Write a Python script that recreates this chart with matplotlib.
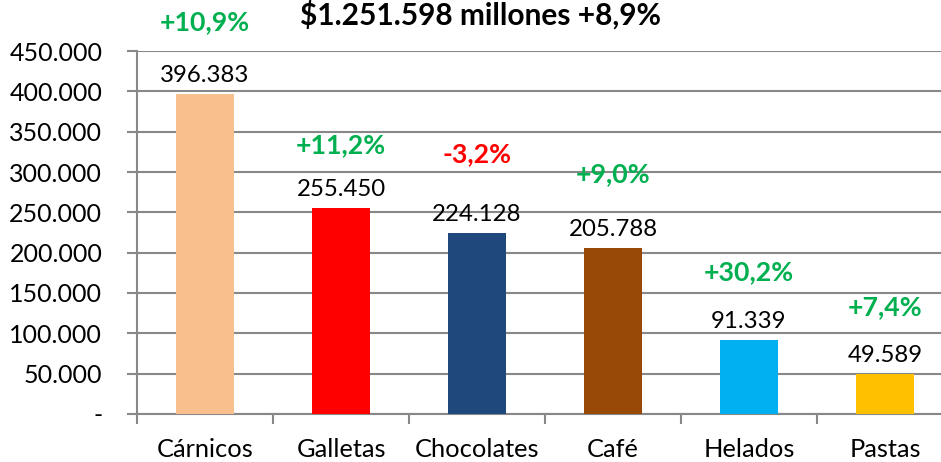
import matplotlib
matplotlib.use("Agg")
import matplotlib.pyplot as plt
import numpy as np

categorias = ['Cárnicos', 'Galletas', 'Chocolates', 'Café', 'Helados', 'Pastas']
ventas = [396383, 255450, 224128, 205788, 91339, 49589]
variacion = ['+10,9%', '+11,2%', '-3,2%', '+9,0%', '+30,2%', '+7,4%']
colores = ['#F9C08E', '#FF0000', '#1F497D', '#984807', '#00B0F0', '#FFC000']
# altura de las etiquetas de variacion (como en el original, colocadas a mano)
pct_y = [486000, 333000, 322000, 297000, 176000, 133000]
titulo = '$1.251.598 millones +8,9%'

plt.rcParams['font.family'] = ['Lato', 'DejaVu Sans']
gris = '#888888'

fig = plt.figure(figsize=(9.41, 4.62), dpi=100)
ax = fig.add_axes([137/941, 48/462, 816/941, 363/462])

x = np.arange(len(categorias))
ax.bar(x, ventas, width=0.43, color=colores, zorder=3)

ax.set_xlim(-0.5, len(categorias) - 0.5)
ax.set_ylim(0, 450000)
ax.set_yticks(np.arange(0, 450001, 50000))
ax.set_yticklabels(['-'] + ['{:,}'.format(v).replace(',', '.') for v in range(50000, 450001, 50000)])
ax.yaxis.grid(True, color=gris, linewidth=1.5, zorder=0)
ax.set_xticks(x)
ax.set_xticklabels(categorias)
ax.set_xticks(np.arange(-0.5, len(categorias)), minor=True)
ax.tick_params(axis='x', which='major', length=0, pad=17, labelsize=18.3)
ax.tick_params(axis='x', which='minor', length=7, width=1.5, color=gris, direction='out')
ax.tick_params(axis='y', length=7, width=1.5, color=gris, pad=18, labelsize=18)

for s in ['top', 'right']:
    ax.spines[s].set_visible(False)
for s in ['left', 'bottom']:
    ax.spines[s].set_color(gris)
    ax.spines[s].set_linewidth(1.5)

for i, v in enumerate(ventas):
    ax.annotate('{:,}'.format(v).replace(',', '.'), (x[i], v), xytext=(0, 6),
                textcoords='offset points', ha='center', va='bottom', fontsize=17.3)
    c = '#FF0000' if variacion[i].startswith('-') else '#00B050'
    ax.text(x[i], pct_y[i], variacion[i], ha='center', va='center', fontsize=19.3,
            fontweight='bold', color=c, clip_on=False)

fig.text(480/941, 1 - 15/462, titulo, ha='center', va='center', fontsize=21.5,
         fontweight='bold')

fig.savefig('out.png', dpi=100)
